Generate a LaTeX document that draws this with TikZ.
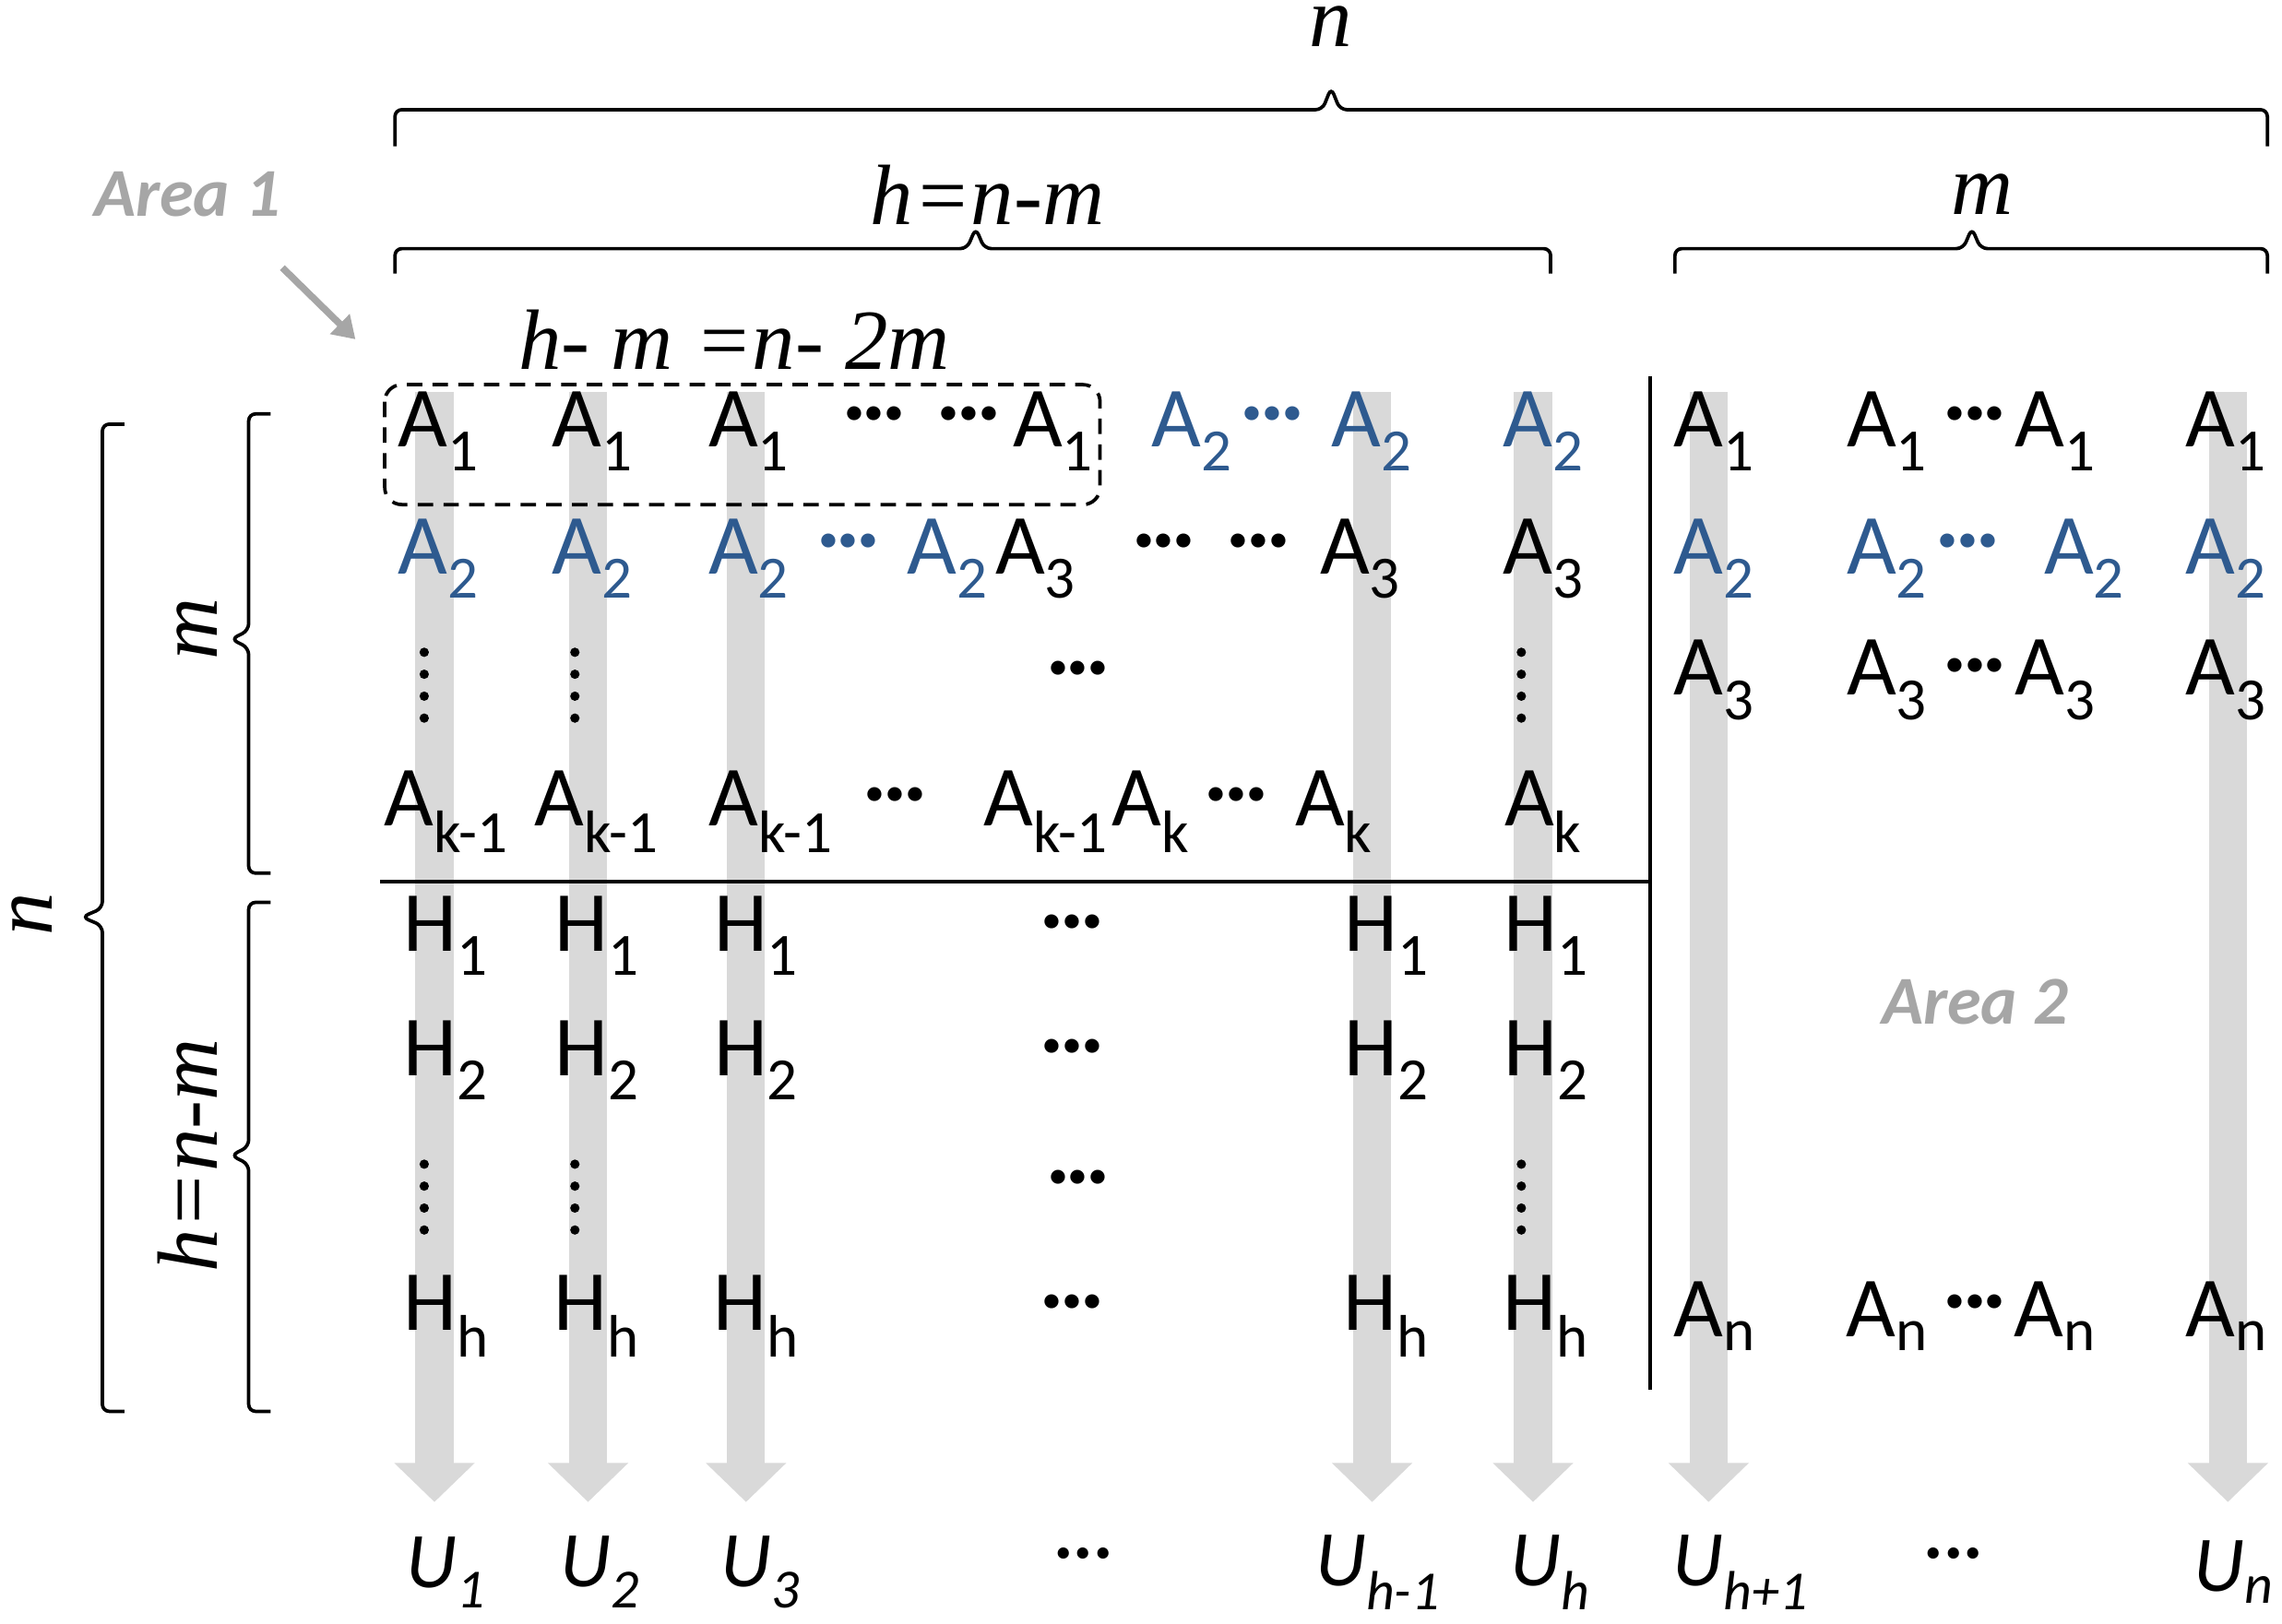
\documentclass[tikz,border=0pt]{standalone}
\usepackage{fontspec}
\setmainfont{Carlito}
\newfontfamily\ser{Liberation Serif}
\usetikzlibrary{arrows.meta}
\definecolor{ablue}{HTML}{2E5A8F}
\definecolor{agray}{HTML}{D9D9D9}
\definecolor{lgray}{HTML}{A6A6A6}
\begin{document}
\begin{tikzpicture}[x=0.03cm,y=-0.03cm,
 lab/.style={font=\fontsize{50}{56}\selectfont,inner sep=0},
 bl/.style={lab,text=ablue},
 ital/.style={font=\fontsize{50}{56}\selectfont\ser\itshape,inner sep=0},
 ulab/.style={font=\fontsize{46}{52}\selectfont\itshape,inner sep=0},
 area/.style={font=\fontsize{40}{46}\selectfont\bfseries\itshape,text=lgray,inner sep=0},
 garrow/.style={draw=agray,line width=0.78cm,-{Triangle[width=1.6cm,length=0.8cm]}},
 brc/.style={draw,line width=2pt,rounded corners=4pt},
 dts/.style={lab,font=\fontsize{44}{50}\selectfont\bfseries}]
\useasboundingbox (0,0) rectangle (1560,1110);
% gray arrows
\foreach \x/\n in {297/a,402/b,510/c,938/d,1048/e,1168/f,1523/g}{
 \coordinate (t\n) at (\x,268); \coordinate (b\n) at (\x,1027);
 \draw[garrow] (t\n) -- (b\n);}
% braces
\draw[brc] (270,100) -- (270,75) -- (904,75) -- (910,60) -- (916,75) -- (1550,75) -- (1550,100);
\node[ital] (bn) at (910,18) {n};
\draw[brc] (270,187) -- (270,170) -- (661,170) -- (667,156) -- (673,170) -- (1060,170) -- (1060,187);
\node[ital] (bh) at (675,133) {h=n-m};
\draw[brc] (1145,187) -- (1145,170) -- (1342,170) -- (1348,156) -- (1354,170) -- (1550,170) -- (1550,187);
\node[ital] (bm) at (1355,133) {m};
\draw[brc] (85,290) -- (70,290) -- (70,621) -- (56,627) -- (70,633) -- (70,965) -- (85,965);
\node[ital,rotate=90] (ln) at (22,625) {n};
\draw[brc] (185,283) -- (170,283) -- (170,431) -- (158,437) -- (170,443) -- (170,597) -- (185,597);
\node[ital,rotate=90] (lm) at (135,430) {m};
\draw[brc] (185,617) -- (170,617) -- (170,784) -- (158,790) -- (170,796) -- (170,965) -- (185,965);
\node[ital,rotate=90] (lh) at (128,790) {h=n-m};
% lines
\coordinate (hl1) at (260,603); \coordinate (hl2) at (1128,603);
\draw[line width=2pt] (hl1) -- (hl2);
\coordinate (vl1) at (1128,257); \coordinate (vl2) at (1128,950);
\draw[line width=2pt] (vl1) -- (vl2);
\draw[line width=2pt,dash pattern=on 9pt off 6pt,rounded corners=0.35cm] (263,263) rectangle (752,345);
\node[ital] (hm) at (502,232) {h- m =n- 2m};
\node[area] (ar1) at (128,133) {Area 1};
\node[area] (ar2) at (1350,685) {Area 2};
\coordinate (a1s) at (193,183); \coordinate (a1e) at (243,232);
\draw[lgray,line width=4pt,-{Triangle[width=0.55cm,length=0.45cm]}] (a1s) -- (a1e);
% row 1
\foreach \x/\n in {300/1,405/2,512/3,720/4,1172/5,1290/6,1405/7,1522/8}
 \node[lab] (ra\n) at (\x,295) {A\textsubscript{1}};
\foreach \x/\n in {815/1,938/2,1055/3}
 \node[bl] (rb\n) at (\x,295) {A\textsubscript{2}};
\node[dts] (d1a) at (630,288) {···\ \ ···};
\node[dts,text=ablue] (d1b) at (870,288) {···};
\node[dts] (d1c) at (1350,288) {···};
% row 2
\foreach \x/\n in {300/1,405/2,512/3,648/4,1172/5,1290/6,1425/7,1522/8}
 \node[bl] (sa\n) at (\x,382) {A\textsubscript{2}};
\foreach \x/\n in {708/1,930/2,1055/3}
 \node[lab] (sb\n) at (\x,382) {A\textsubscript{3}};
\node[dts,text=ablue] (d2a) at (580,375) {···};
\node[dts] (d2b) at (828,375) {···\ \ ···};
\node[dts,text=ablue] (d2c) at (1345,375) {···};
% row 3
\foreach \x/\n in {1172/1,1290/2,1405/3,1522/4}
 \node[lab] (ta\n) at (\x,465) {A\textsubscript{3}};
\node[dts] (d3a) at (737,462) {···};
\node[dts] (d3b) at (1350,460) {···};
\foreach \x in {290,393,1040}{
 \foreach \y in {446,461,476,491}{\fill (\x,\y) circle (3.2);}}
% row 4
\foreach \x/\n in {305/1,408/2,527/3,715/4}
 \node[lab] (ka\n) at (\x,555) {A\textsubscript{k-1}};
\foreach \x/\n in {787/1,912/2,1055/3}
 \node[lab] (kb\n) at (\x,555) {A\textsubscript{k}};
\node[dts] (d4a) at (612,548) {···};
\node[dts] (d4b) at (845,548) {···};
% H rows
\foreach \y/\s/\r in {640/1/p,725/2/q,900/h/r}{
 \foreach \x/\n in {305/1,408/2,517/3,948/4,1057/5}
  \node[lab] (h\r\n) at (\x,\y) {H\textsubscript{\s}};
 \node[dts] (hd\r) at (733,\y-5) {···};}
\node[dts] (d7a) at (737,810) {···};
\foreach \x in {290,393,1040}{
 \foreach \y in {796,811,826,841}{\fill (\x,\y) circle (3.2);}}
\foreach \x/\n in {1172/1,1290/2,1405/3,1522/4}
 \node[lab] (an\n) at (\x,900) {A\textsubscript{n}};
\node[dts] (dan) at (1350,895) {···};
% U labels
\node[ulab] (u1) at (305,1075) {U\textsubscript{1}};
\node[ulab] (u2) at (410,1075) {U\textsubscript{2}};
\node[ulab] (u3) at (520,1075) {U\textsubscript{3}};
\node[ulab] (ud) at (740,1068) {···};
\node[ulab] (u4) at (942,1075) {U\textsubscript{h-1}};
\node[ulab] (u5) at (1060,1075) {U\textsubscript{h}};
\node[ulab] (u6) at (1190,1075) {U\textsubscript{h+1}};
\node[ulab] (ud2) at (1335,1068) {···};
\node[ulab] (u7) at (1527,1075) {U\textsubscript{n}};
\end{tikzpicture}
\end{document}
